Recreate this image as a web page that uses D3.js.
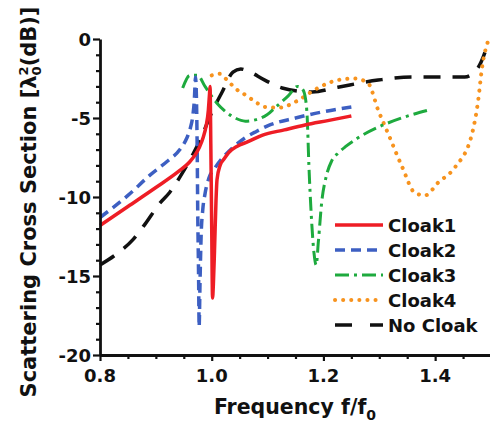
<!DOCTYPE html>
<html>
<head>
<meta charset="utf-8">
<script src="https://cdn.jsdelivr.net/npm/d3@7"></script>
<style>
  body { margin: 0; background: #fff; }
  svg text { font-family: "DejaVu Sans", sans-serif; font-weight: bold; fill: #111; }
</style>
</head>
<body>
<svg id="chart"></svg>
<script>
// values: [f/f0, dB]
let cloak1 = [[0.80,-11.8],[0.85,-10.6],[0.90,-9.4],[0.94,-8.4],[0.96,-7.8],[0.97,-7.35],[0.978,-6.85],[0.985,-6.2],[0.99,-5.5],[0.994,-4.5],[0.996,-3.5],[0.997,-3.0],
              [0.9985,-7],[1.000,-12],[1.0015,-16.4],[1.003,-15.5],[1.005,-13.4],[1.0077,-10.2],[1.0095,-8.9],[1.015,-8.0],[1.022,-7.6],[1.03,-7.2],[1.045,-6.8],
              [1.065,-6.5],[1.09,-6.1],[1.13,-5.75],[1.167,-5.44],[1.21,-5.15],[1.25,-4.87]],
    cloak2 = [[0.80,-11.3],[0.85,-9.9],[0.89,-8.6],[0.92,-7.75],[0.943,-7.0],[0.955,-6.3],[0.962,-5.6],[0.966,-4.9],[0.969,-3.8],[0.971,-2.4],[0.9725,-3.5],
              [0.974,-7],[0.975,-11],[0.9765,-15],[0.9775,-18.2],[0.979,-15.5],[0.981,-12.5],[0.984,-10.8],[0.988,-9.8],[0.995,-8.8],[1.005,-8.2],[1.02,-7.5],
              [1.04,-6.8],[1.06,-6.25],[1.08,-5.85],[1.10,-5.5],[1.15,-5.0],[1.20,-4.6],[1.25,-4.3]],
    cloak3 = [[0.948,-3.1],[0.961,-2.3],[0.975,-2.3],[0.988,-3.0],[1.009,-4.05],[1.025,-4.6],[1.042,-5.0],[1.06,-5.2],[1.08,-5.1],[1.099,-4.8],[1.115,-4.3],
              [1.137,-3.6],[1.154,-3.0],[1.163,-3.2],[1.168,-3.8],[1.171,-5],[1.174,-8],[1.178,-11],[1.183,-13.5],[1.187,-14.3],[1.191,-12.8],[1.197,-10.3],
              [1.205,-8.7],[1.215,-7.7],[1.227,-7.2],[1.24,-6.8],[1.26,-6.3],[1.30,-5.55],[1.34,-5.0],[1.388,-4.5]],
    cloak4 = [[1.000,-2.3],[1.014,-2.2],[1.03,-2.7],[1.045,-3.2],[1.063,-3.6],[1.081,-4.05],[1.095,-4.3],[1.12,-4.35],[1.154,-3.9],[1.185,-3.2],[1.226,-2.6],
              [1.256,-2.5],[1.28,-2.8],[1.298,-4.5],[1.316,-6.0],[1.341,-8.1],[1.364,-9.75],[1.382,-9.9],[1.405,-9.1],[1.436,-8.1],[1.466,-6.0],[1.477,-3.9],
              [1.484,-1.8],[1.495,-0.1]],
    noCloak = [[0.80,-14.3],[0.83,-13.6],[0.859,-12.7],[0.881,-11.7],[0.907,-10.4],[0.925,-9.7],[0.947,-8.5],[0.979,-6.4],[1.002,-4.5],[1.018,-3.4],[1.038,-2.1],
               [1.052,-1.9],[1.063,-2.0],[1.095,-2.6],[1.126,-3.1],[1.18,-3.35],[1.226,-3.05],[1.298,-2.6],[1.359,-2.4],[1.418,-2.4],[1.453,-2.4],[1.477,-1.8],
               [1.495,-0.25]],
    seriesNames = ["Cloak1","Cloak2","Cloak3","Cloak4","No Cloak"],
    xTicks = [0.8, 1.0, 1.2, 1.4],
    yTicks = [0, -5, -10, -15, -20];

let width = 490, height = 425,
    series = [cloak1, cloak2, cloak3, cloak4, noCloak],
    styles = [
      {color:"#ee1d25", dash:null,        w:3.5},
      {color:"#3d5fc2", dash:"10,6",      w:3.5},
      {color:"#1eaa3e", dash:"14,5,3,5",  w:3},
      {color:"#f7931e", dash:"0.1,8",     w:4, cap:"round"},
      {color:"#111",    dash:"17,12",     w:3.5}
    ],
    xScale = d3.scaleLinear().domain([0.8,1.5]).range([100,491]),
    yScale = d3.scaleLinear().domain([-20,0]).range([355,39]),
    line = d3.line().x(d=>xScale(d[0])).y(d=>yScale(d[1])).curve(d3.curveMonotoneX),

    svg = d3.select("#chart")
            .attr("width",width)
            .attr("height",height);

// curves, no cloak first so the cloaks sit on top
[4,3,2,1,0].forEach(i=>{
  svg.append("path")
     .attr("d",line(series[i]))
     .attr("fill","none")
     .attr("stroke",styles[i].color)
     .attr("stroke-width",styles[i].w)
     .attr("stroke-dasharray",styles[i].dash)
     .attr("stroke-linecap",styles[i].cap || "butt");
});

// axes
let xAxis = svg.append("g").attr("transform",`translate(0,${yScale(-20)})`),
    yAxis = svg.append("g").attr("transform",`translate(${xScale(0.8)},0)`);

xAxis.call(d3.axisBottom(xScale).tickValues(d3.range(0.8,1.5001,0.05)).tickSize(4).tickSizeOuter(0).tickFormat(""));
xAxis.call(g=>g.selectAll(".tick").filter(d=>xTicks.some(t=>Math.abs(t-d)<1e-6)).select("line").attr("y2",6));
yAxis.call(d3.axisLeft(yScale).tickValues(d3.range(-20,0.001,1)).tickSize(4).tickSizeOuter(0).tickFormat(""));
yAxis.call(g=>g.selectAll(".tick").filter(d=>yTicks.includes(Math.round(d)) && Math.abs(d%5)<1e-6).select("line").attr("x2",-7));

svg.selectAll(".domain").attr("stroke","#111").attr("stroke-width",2.8);
svg.selectAll(".tick line").attr("stroke","#111").attr("stroke-width",2.2);

svg.selectAll(".xlab").data(xTicks).enter().append("text")
   .attr("x",d=>xScale(d)).attr("y",382)
   .attr("text-anchor","middle").attr("font-size","18px")
   .text(d=>d.toFixed(1));

svg.selectAll(".ylab").data(yTicks).enter().append("text")
   .attr("x",91).attr("y",d=>yScale(d)+6.5)
   .attr("text-anchor","end").attr("font-size","18px")
   .text(d=>d);

// axis titles
let xt = svg.append("text").attr("x",295).attr("y",414).attr("text-anchor","middle").attr("font-size","20.5px");
xt.append("tspan").text("Frequency f/f");
xt.append("tspan").attr("font-size","14px").attr("dy",6).text("0");

let yt = svg.append("text").attr("transform","translate(36,202) rotate(-90)").attr("text-anchor","middle").attr("font-size","21px");
yt.append("tspan").text("Scattering Cross Section [λ");
yt.append("tspan").attr("font-size","13px").attr("dy",-8).text("2");
yt.append("tspan").attr("font-size","13px").attr("dx",-9).attr("dy",13).text("0");
yt.append("tspan").attr("dy",-5).text("(dB)]");

// legend
let legend = svg.append("g").attr("transform","translate(335,225)");
seriesNames.forEach((name,i)=>{
  let row = legend.append("g").attr("transform",`translate(0,${i*25})`);
  row.append("line").attr("x1",0).attr("x2",48).attr("y1",0).attr("y2",0)
     .attr("stroke",styles[i].color).attr("stroke-width",styles[i].w)
     .attr("stroke-dasharray",i==4 ? "17,18" : styles[i].dash)
     .attr("stroke-linecap",styles[i].cap || "butt");
  row.append("text").attr("x",53).attr("y",6.5)
     .attr("font-family","Liberation Sans, Arial, sans-serif").attr("font-size","18px")
     .text(name);
});
</script>
</body>
</html>
